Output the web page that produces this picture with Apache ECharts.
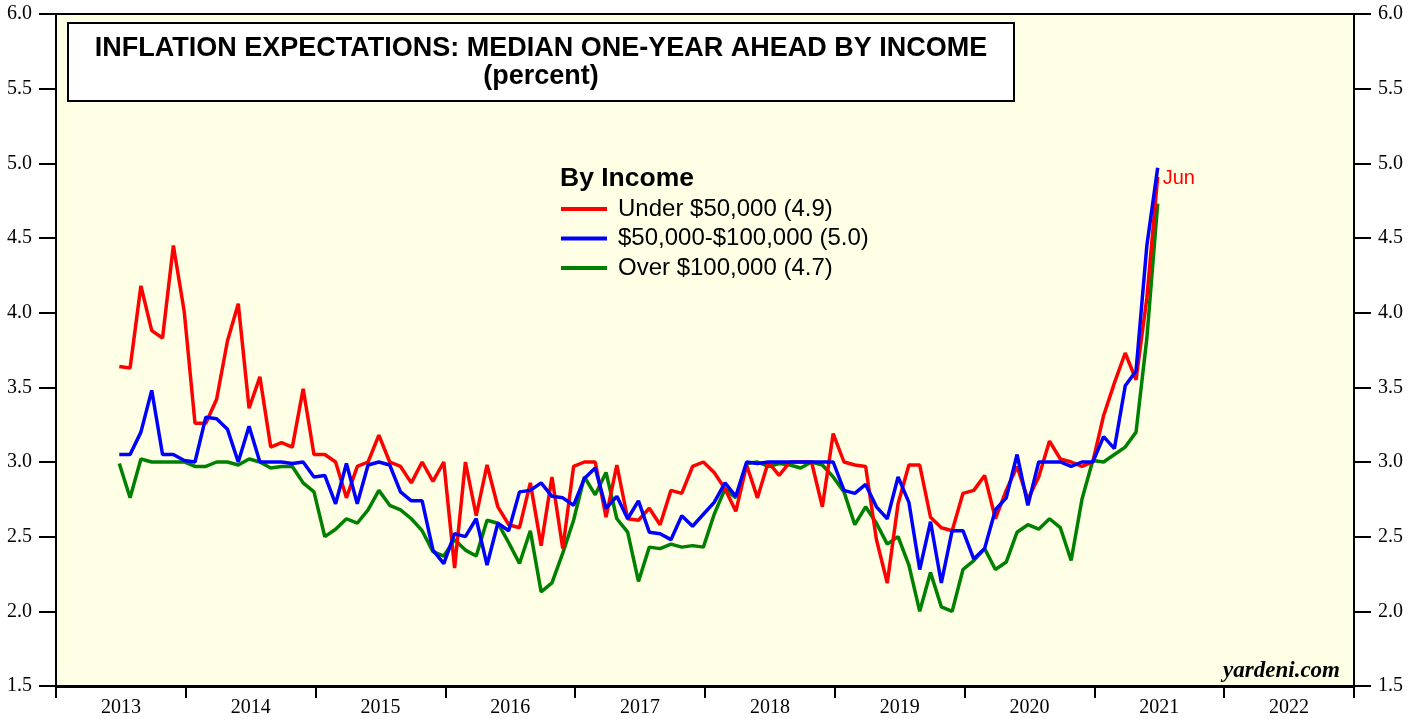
<!DOCTYPE html>
<html>
<head>
<meta charset="utf-8">
<script src="https://cdn.jsdelivr.net/npm/echarts@6/dist/echarts.min.js"></script>
<style>
  html, body { margin: 0; padding: 0; background: #fff; }
  #main { width: 1419px; height: 719px; }
</style>
</head>
<body>
<div id="main"></div>
<script>
// year labels on the bottom axis
var years = ['2013', '2014', '2015', '2016', '2017', '2018', '2019', '2020', '2021', '2022'];
// first observation is June 2013 (month 5 counted from Jan 2013), monthly to June 2021
var startMonth = 5;

var under50k = [
  3.64, 3.63, 4.18, 3.88, 3.83, 4.45, 4.01,
  3.26, 3.26, 3.42, 3.81, 4.06, 3.36, 3.57, 3.10, 3.13, 3.10, 3.49, 3.05,
  3.05, 3.00, 2.76, 2.97, 3.00, 3.18, 3.00, 2.97, 2.86, 3.00, 2.87, 3.00,
  2.29, 3.00, 2.64, 2.98, 2.70, 2.58, 2.56, 2.86, 2.44, 2.90, 2.42, 2.97,
  3.00, 3.00, 2.63, 2.98, 2.62, 2.61, 2.69, 2.58, 2.81, 2.79, 2.97, 3.00,
  2.93, 2.82, 2.67, 2.98, 2.76, 3.00, 2.91, 3.00, 3.00, 3.00, 2.70, 3.19,
  3.00, 2.98, 2.97, 2.48, 2.19, 2.72, 2.98, 2.98, 2.63, 2.56, 2.54, 2.79,
  2.81, 2.91, 2.62, 2.81, 2.97, 2.75, 2.90, 3.14, 3.02, 3.00, 2.97, 3.00,
  3.31, 3.53, 3.73, 3.55, 4.10, 4.91
];
var mid50k100k = [
  3.05, 3.05, 3.20, 3.48, 3.05, 3.05, 3.01,
  3.00, 3.30, 3.29, 3.22, 3.00, 3.24, 3.00, 3.00, 3.00, 2.99, 3.00, 2.90,
  2.91, 2.72, 2.99, 2.72, 2.98, 3.00, 2.98, 2.80, 2.74, 2.74, 2.41, 2.32,
  2.52, 2.50, 2.62, 2.31, 2.59, 2.54, 2.80, 2.81, 2.86, 2.77, 2.76, 2.71,
  2.89, 2.96, 2.69, 2.77, 2.62, 2.74, 2.53, 2.52, 2.48, 2.64, 2.57, 2.65,
  2.73, 2.86, 2.77, 3.00, 2.99, 3.00, 3.00, 3.00, 3.00, 3.00, 3.00, 3.00,
  2.81, 2.79, 2.85, 2.70, 2.62, 2.90, 2.73, 2.28, 2.60, 2.19, 2.54, 2.54,
  2.35, 2.42, 2.68, 2.76, 3.05, 2.71, 3.00, 3.00, 3.00, 2.97, 3.00, 3.00,
  3.17, 3.09, 3.51, 3.61, 4.45, 4.97
];
var over100k = [
  2.99, 2.76, 3.02, 3.00, 3.00, 3.00, 3.00,
  2.97, 2.97, 3.00, 3.00, 2.98, 3.02, 3.00, 2.96, 2.97, 2.97, 2.86, 2.80,
  2.50, 2.55, 2.62, 2.59, 2.68, 2.81, 2.71, 2.68, 2.62, 2.54, 2.40, 2.37,
  2.48, 2.41, 2.37, 2.61, 2.59, 2.46, 2.32, 2.54, 2.13, 2.19, 2.39, 2.61,
  2.90, 2.78, 2.93, 2.62, 2.53, 2.20, 2.43, 2.42, 2.45, 2.43, 2.44, 2.43,
  2.65, 2.82, 2.76, 2.99, 3.00, 2.97, 2.99, 2.98, 2.96, 3.00, 2.98, 2.90,
  2.80, 2.58, 2.70, 2.59, 2.45, 2.50, 2.31, 2.00, 2.26, 2.03, 2.00, 2.28,
  2.34, 2.42, 2.28, 2.33, 2.53, 2.58, 2.55, 2.62, 2.56, 2.34, 2.75, 3.01,
  3.00, 3.05, 3.10, 3.20, 3.83, 4.73
];

var seriesNames = ['Under $50,000 (4.9)', '$50,000-$100,000 (5.0)', 'Over $100,000 (4.7)'];
var seriesColors = ['#ff0000', '#0000ff', '#008000'];

// pair each value with its month position (end of month)
function toPoints(values) {
  return values.map(function (v, i) {
    return [startMonth + i + 0.85, v];
  });
}

var chart = echarts.init(document.getElementById('main'));

var serif = 'Liberation Serif';
var sans = 'Liberation Sans';

var yAxisBase = {
  type: 'value',
  min: 1.5,
  max: 6,
  interval: 0.5,
  axisLine: { show: true, lineStyle: { color: '#000', width: 2 } },
  axisTick: { show: true, length: 17, lineStyle: { color: '#000', width: 2 } },
  axisLabel: {
    color: '#000',
    fontFamily: serif,
    fontSize: 20,
    margin: 24,
    formatter: function (v) { return v.toFixed(1); }
  },
  splitLine: { show: false }
};

var option = {
  backgroundColor: '#fff',
  animation: false,
  color: seriesColors,
  grid: {
    left: 56,
    right: 65,
    top: 14,
    bottom: 33,
    show: true,
    backgroundColor: '#ffffe5',
    borderColor: '#000',
    borderWidth: 2
  },
  legend: {
    orient: 'vertical',
    left: 556,
    top: 192,
    icon: 'rect',
    itemWidth: 46,
    itemHeight: 4,
    itemGap: 5.5,
    data: seriesNames,
    textStyle: { color: '#000', fontFamily: sans, fontSize: 24, lineHeight: 24, padding: [0, 0, 0, 6] }
  },
  xAxis: [
    {
      type: 'category',
      data: years,
      boundaryGap: true,
      position: 'bottom',
      axisLine: { show: true, lineStyle: { color: '#000', width: 3 } },
      axisTick: { show: true, alignWithLabel: false, length: 12, inside: false, lineStyle: { color: '#000', width: 2 } },
      axisLabel: { color: '#000', fontFamily: serif, fontSize: 20, margin: 12 },
      splitLine: { show: false }
    },
    {
      type: 'value',
      min: 0,
      max: 120,
      show: false
    }
  ],
  yAxis: [
    Object.assign({}, yAxisBase, { position: 'left' }),
    Object.assign({}, yAxisBase, { position: 'right' })
  ],
  graphic: [
    {
      type: 'rect',
      shape: { x: 68, y: 23, width: 946, height: 78 },
      style: { fill: '#fff', stroke: '#000', lineWidth: 2 },
      z: 100
    },
    {
      type: 'text',
      x: 541,
      y: 49,
      style: {
        text: 'INFLATION EXPECTATIONS: MEDIAN ONE-YEAR AHEAD BY INCOME',
        font: 'bold 27px "Liberation Sans"',
        fill: '#000',
        textAlign: 'center',
        textVerticalAlign: 'middle'
      },
      z: 101
    },
    {
      type: 'text',
      x: 541,
      y: 77,
      style: {
        text: '(percent)',
        font: 'bold 27px "Liberation Sans"',
        fill: '#000',
        textAlign: 'center',
        textVerticalAlign: 'middle'
      },
      z: 101
    },
    {
      type: 'text',
      x: 560,
      y: 179,
      style: {
        text: 'By Income',
        font: 'bold 26.5px "Liberation Sans"',
        fill: '#000',
        textAlign: 'left',
        textVerticalAlign: 'middle'
      },
      z: 101
    },
    {
      type: 'text',
      x: 1340,
      y: 671,
      style: {
        text: 'yardeni.com',
        font: 'italic bold 23px "Liberation Serif"',
        fill: '#000',
        textAlign: 'right',
        textVerticalAlign: 'middle'
      },
      z: 101
    }
  ],
  series: [
    {
      name: seriesNames[0],
      type: 'line',
      xAxisIndex: 1,
      yAxisIndex: 0,
      symbol: 'none',
      lineStyle: { width: 3.5, color: seriesColors[0] },
      endLabel: {
        show: true,
        formatter: 'Jun',
        color: '#ff0000',
        fontFamily: sans,
        fontSize: 20,
        distance: 5,
        offset: [0, 2]
      },
      data: toPoints(under50k),
      z: 3
    },
    {
      name: seriesNames[1],
      type: 'line',
      xAxisIndex: 1,
      yAxisIndex: 0,
      symbol: 'none',
      lineStyle: { width: 3.5, color: seriesColors[1] },
      data: toPoints(mid50k100k),
      z: 4
    },
    {
      name: seriesNames[2],
      type: 'line',
      xAxisIndex: 1,
      yAxisIndex: 0,
      symbol: 'none',
      lineStyle: { width: 3.5, color: seriesColors[2] },
      data: toPoints(over100k),
      z: 2
    }
  ]
};

chart.setOption(option);
</script>
</body>
</html>
